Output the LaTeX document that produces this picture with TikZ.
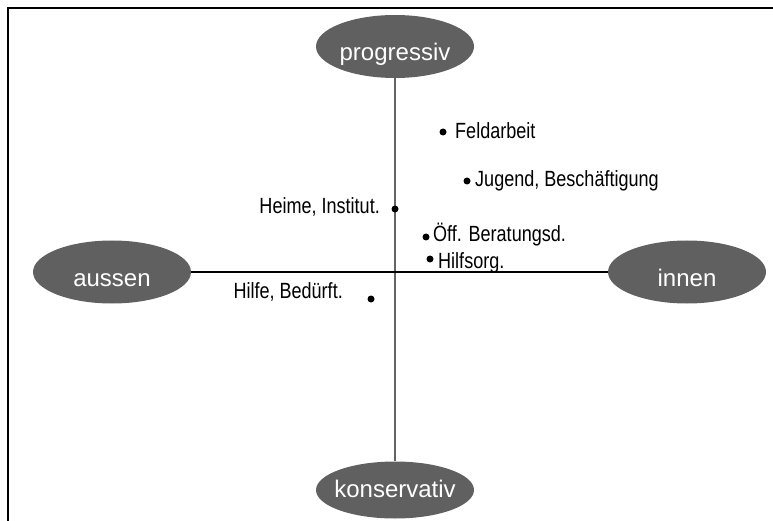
\documentclass[tikz,border=0pt]{standalone}
\usepackage{fontspec}
\setmainfont{Liberation Sans}
\usetikzlibrary{shapes.geometric}

\definecolor{poleGray}{RGB}{96,96,96}
\definecolor{axisGray}{RGB}{100,100,100}

\newcommand{\poletext}[2][14.5pt]{\makebox[0pt]{\raisebox{-#1}{#2}}}
\newcommand{\squeezed}[1]{\scalebox{0.82}[1]{#1}}

\begin{document}
\begin{tikzpicture}[x=1pt,y=-1pt,
  pole_node/.style={ellipse,fill=poleGray,text=white,inner sep=0pt,text height=0pt,text depth=0pt,minimum width=158pt,minimum height=63pt,font=\fontsize{24}{24}\selectfont},
  item_dot/.style={circle,fill=black,inner sep=0pt,minimum size=7pt},
  item_text/.style={inner sep=0pt,font=\fontsize{22}{22}\selectfont}]

    \useasboundingbox (0,0) rectangle (773,521);
    \draw[line width=2.2pt] (773,8) -- (8,8) -- (8,521);

    \node[pole_node] (prog) at (395,46.5) {\poletext{progressiv}};
    \node[pole_node,minimum height=57pt] (kons) at (395,490) {\poletext[7pt]{konservativ}};
    \node[pole_node] (aus) at (112,272) {\poletext{aussen}};
    \node[pole_node] (inn) at (687,272) {\poletext{innen}};

    \draw[axisGray, line width=1.5pt] (prog) -- (kons);
    \draw[black, line width=1.3pt] (aus) -- (inn);

    \node[item_dot] (feld_dot) at (443,132) {};
    \node[item_dot] (jugend_dot) at (467,181) {};
    \node[item_dot] (heime_dot) at (395,209) {};
    \node[item_dot] (oeff_dot) at (426,237) {};
    \node[item_dot] (hilfsorg_dot) at (430,259) {};
    \node[item_dot] (hilfe_dot) at (371,299) {};

    \node[item_text,anchor=base west] (feld) at (455,138.5) {\squeezed{Feldarbeit}};
    \node[item_text,anchor=base west] (jugend) at (475,187) {\squeezed{Jugend, Beschäftigung}};
    \node[item_text,anchor=base east] (heime) at (380,214) {\squeezed{Heime, Institut.}};
    \node[item_text,anchor=base west] (oeff) at (433,242) {\squeezed{Öff. Beratungsd.}};
    \node[item_text,anchor=base west] (hilfsorg) at (438,269) {\squeezed{Hilfsorg.}};
    \node[item_text,anchor=base east] (hilfe) at (343,298) {\squeezed{Hilfe, Bedürft.}};
\end{tikzpicture}
\end{document}
